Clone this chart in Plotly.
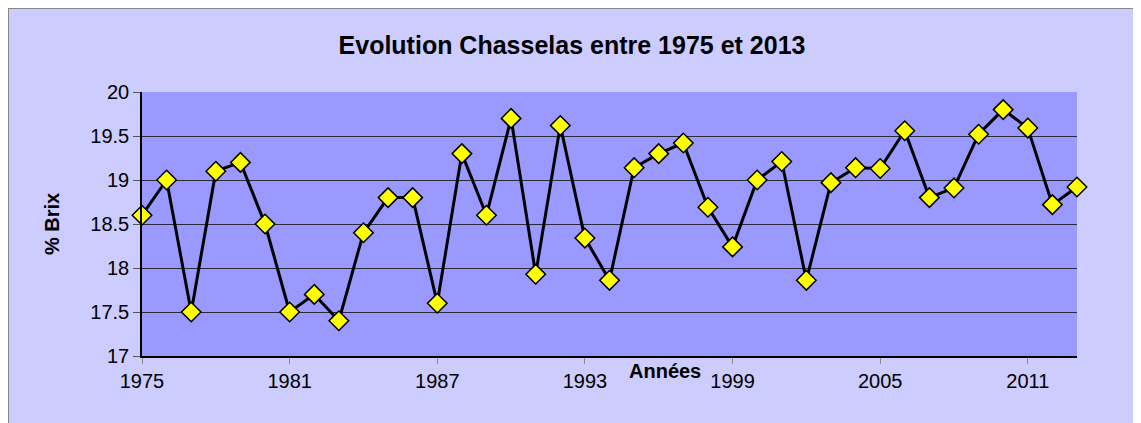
import plotly.graph_objects as go

# Chasselas sugar content (% Brix) per harvest year
years = list(range(1975, 2014))
brix = [18.6, 19.0, 17.5, 19.1, 19.2, 18.5, 17.5, 17.7, 17.4, 18.4,
        18.8, 18.8, 17.6, 19.3, 18.6, 19.7, 17.93, 19.62, 18.34, 17.86,
        19.14, 19.3, 19.42, 18.69, 18.24, 19.0, 19.21, 17.86, 18.97, 19.14,
        19.13, 19.56, 18.8, 18.91, 19.52, 19.8, 19.59, 18.72, 18.92]
x_ticks = [1975, 1981, 1987, 1993, 1999, 2005, 2011]
y_ticks = [17, 17.5, 18, 18.5, 19, 19.5, 20]

COLORS = {
    "outer": "#ccccff",
    "plot": "#9999ff",
    "marker": "#ffff00",
    "line": "#000000",
    "grid": "#2a2a3a",
}
FONT = "Liberation Sans, Arial, sans-serif"

# page has an 8px body margin, so the figure is a bit smaller than the window
W, H = 1133, 415
L, R, T, B = 134, 64, 84, 67
PW, PH = W - L - R, H - T - B


def px(x):
    return (x - L) / PW


def py(y):
    return (H - B - y) / PH


fig = go.Figure(go.Scatter(
    x=years, y=brix, mode="lines+markers",
    line=dict(color=COLORS["line"], width=3),
    marker=dict(symbol="diamond", size=15, color=COLORS["marker"],
                line=dict(color="#000000", width=1.5)),
    cliponaxis=False, showlegend=False,
))

fig.update_layout(
    width=W, height=H,
    paper_bgcolor=COLORS["outer"], plot_bgcolor=COLORS["plot"],
    margin=dict(l=L, r=R, t=T, b=B),
    font=dict(family=FONT, color="#000000", size=20),
    title=dict(text="<b>Evolution Chasselas entre 1975 et 2013</b>",
               x=564 / W, xanchor="center", y=1 - 37 / H, yanchor="middle",
               font=dict(size=25)),
)
fig.update_xaxes(
    range=[1975, 2013], tickvals=x_ticks, ticks="outside", ticklen=6,
    tickcolor="#888888", showgrid=False, showline=True, linecolor="#000000",
    linewidth=1.5, zeroline=False, tickfont=dict(size=20),
)
fig.update_yaxes(
    range=[17, 20], tickvals=y_ticks, ticks="outside", ticklen=7,
    tickcolor="#555555", showgrid=True, gridcolor=COLORS["grid"], gridwidth=1,
    showline=True, linecolor="#000000", linewidth=1.5, zeroline=False,
    tickfont=dict(size=20),
)

# axis titles placed like the original (x title sits between tick labels)
fig.add_annotation(text="<b>Années</b>", xref="paper", yref="paper",
                   x=px(657), y=py(363), xanchor="center", yanchor="middle",
                   showarrow=False, font=dict(size=20))
fig.add_annotation(text="<b>% Brix</b>", xref="paper", yref="paper",
                   x=px(44), y=0.5, xanchor="center", yanchor="middle",
                   textangle=-90, showarrow=False, font=dict(size=20))

# chart frame (only top and left edges fall inside the picture)
fig.add_shape(type="rect", xref="paper", yref="paper",
              x0=px(0), x1=1.3, y0=-0.5, y1=py(0),
              line=dict(color="#888888", width=2), layer="below")

fig.write_html("out.html")
